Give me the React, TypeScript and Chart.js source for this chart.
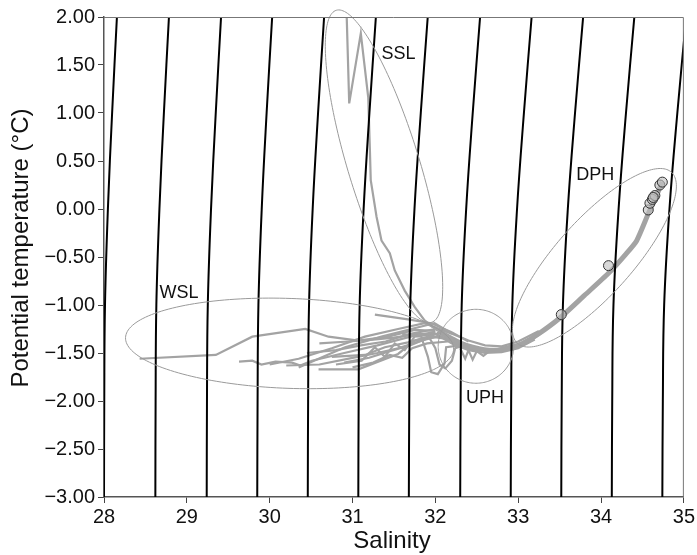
import React, { useEffect, useRef } from "react";
import { Chart, registerables } from "chart.js";
Chart.register(...registerables);

// Isopycnal lines: salinity at each temperature level
const ISO_T = [-3, -2, -1, 0, 1, 2];
const ISO_1 = [28.0, 28.003, 28.012, 28.047, 28.098, 28.156];
const ISO_2 = [28.62, 28.623, 28.632, 28.669, 28.723, 28.784];
const ISO_3 = [29.24, 29.243, 29.253, 29.292, 29.349, 29.413];
const ISO_4 = [29.85, 29.854, 29.864, 29.904, 29.963, 30.03];
const ISO_5 = [30.46, 30.464, 30.475, 30.519, 30.584, 30.657];
const ISO_6 = [31.07, 31.074, 31.086, 31.134, 31.204, 31.282];
const ISO_7 = [31.68, 31.685, 31.697, 31.748, 31.824, 31.908];
const ISO_8 = [32.3, 32.305, 32.318, 32.372, 32.451, 32.54];
const ISO_9 = [32.91, 32.915, 32.929, 32.986, 33.069, 33.162];
const ISO_10 = [33.52, 33.525, 33.54, 33.599, 33.686, 33.784];
const ISO_11 = [34.13, 34.135, 34.15, 34.212, 34.301, 34.402];
const ISO_12 = [34.74, 34.746, 34.762, 34.826, 34.921, 35.028];
const ISOPYCNALS = [ISO_1, ISO_2, ISO_3, ISO_4, ISO_5, ISO_6, ISO_7, ISO_8, ISO_9, ISO_10, ISO_11, ISO_12];

// Profiles: [salinity, potential temperature]
const PROF_SSL: number[][] = [[30.93, 2.0], [30.96, 1.1], [31.1, 1.83], [31.19, 1.16], [31.21, 0.61], [31.22, 0.3], [31.29, -0.08], [31.35, -0.33], [31.45, -0.46], [31.51, -0.64], [31.63, -0.85], [31.75, -1.02], [31.87, -1.16], [32.03, -1.27]];
const PROF_W1: number[][] = [[28.43, -1.56], [29.35, -1.52], [29.79, -1.33], [30.43, -1.25], [30.71, -1.33], [31.07, -1.37], [31.43, -1.33], [31.75, -1.26], [32.0, -1.27]];
const PROF_W2: number[][] = [[29.63, -1.59], [29.79, -1.58], [29.9, -1.62], [30.07, -1.59], [30.27, -1.6], [30.37, -1.63], [30.51, -1.58], [30.9, -1.5], [31.3, -1.42], [31.7, -1.33], [32.0, -1.28]];
const PROF_A: number[][] = [[30.35, -1.65], [30.59, -1.56], [30.91, -1.44], [31.35, -1.33], [31.71, -1.25], [31.99, -1.19], [32.2, -1.3]];
const PROF_B: number[][] = [[30.59, -1.67], [31.07, -1.67], [31.31, -1.59], [31.55, -1.51], [31.75, -1.37], [32.03, -1.3]];
const PROF_C: number[][] = [[30.0, -1.62], [30.35, -1.56], [30.75, -1.45], [31.15, -1.33], [31.55, -1.25], [31.87, -1.19], [32.1, -1.27]];
const PROF_E: number[][] = [[31.27, -1.1], [31.67, -1.15], [31.95, -1.19], [32.19, -1.28], [32.4, -1.38]];
const PROF_F: number[][] = [[30.8, -1.62], [31.11, -1.58], [31.27, -1.44], [31.39, -1.54], [31.51, -1.4], [31.63, -1.47], [31.75, -1.33], [32.0, -1.3]];
const PROF_G: number[][] = [[30.75, -1.54], [31.15, -1.52], [31.39, -1.44], [31.67, -1.39], [31.95, -1.33], [32.2, -1.36]];
const PROF_H: number[][] = [[31.6, -1.3], [31.83, -1.33], [31.91, -1.54], [31.95, -1.7], [32.03, -1.72], [32.11, -1.61], [32.13, -1.44], [32.3, -1.42]];
const PROF_I: number[][] = [[31.9, -1.3], [32.0, -1.45], [32.05, -1.62], [32.12, -1.66], [32.2, -1.58], [32.24, -1.45], [32.35, -1.42]];
const PROF_J: number[][] = [[30.45, -1.5], [30.8, -1.47], [31.1, -1.42], [31.4, -1.38], [31.7, -1.3], [32.0, -1.25]];
const PROF_K: number[][] = [[30.9, -1.6], [31.2, -1.55], [31.45, -1.48], [31.7, -1.42], [31.9, -1.35], [32.1, -1.32]];
const PROF_L: number[][] = [[30.2, -1.63], [30.6, -1.62], [31.0, -1.55], [31.3, -1.5], [31.55, -1.45], [31.8, -1.38], [32.05, -1.32]];
const PROF_M: number[][] = [[30.6, -1.4], [30.95, -1.38], [31.25, -1.36], [31.5, -1.34], [31.8, -1.3], [32.05, -1.3]];
const PROF_N: number[][] = [[31.0, -1.65], [31.25, -1.6], [31.45, -1.52], [31.6, -1.55], [31.72, -1.45], [31.9, -1.4], [32.15, -1.38]];
const PROF_U2: number[][] = [[32.0, -1.3], [32.2, -1.4], [32.4, -1.47], [32.6, -1.5], [32.8, -1.49], [33.0, -1.45], [33.2, -1.36]];
const PROF_U3: number[][] = [[31.95, -1.22], [32.2, -1.3], [32.4, -1.37], [32.6, -1.42], [32.8, -1.43], [33.0, -1.38], [33.25, -1.27]];
const PROF_U4: number[][] = [[32.3, -1.45], [32.36, -1.56], [32.4, -1.47], [32.45, -1.57], [32.5, -1.48], [32.58, -1.53], [32.65, -1.48]];
const PROF_U5: number[][] = [[32.1, -1.33], [32.3, -1.43], [32.5, -1.48], [32.7, -1.46], [32.9, -1.46], [33.1, -1.4], [33.3, -1.28]];
const PROF_CORE: number[][] = [[32.03, -1.27], [32.2, -1.35], [32.31, -1.4], [32.45, -1.44], [32.59, -1.465], [32.75, -1.47], [32.91, -1.44], [33.05, -1.4], [33.23, -1.31], [33.51, -1.13], [33.8, -0.9], [34.09, -0.67], [34.3, -0.47], [34.43, -0.33], [34.57, -0.05], [34.67, 0.14], [34.74, 0.28]];

const THIN_PROFILES = [PROF_SSL, PROF_W1, PROF_W2, PROF_A, PROF_B, PROF_C, PROF_E, PROF_F, PROF_G, PROF_H, PROF_I, PROF_J, PROF_K, PROF_L, PROF_M, PROF_N, PROF_U2, PROF_U3, PROF_U4, PROF_U5];

// Circled samples
const CIRCLE_S = [33.52, 34.09, 34.57, 34.59, 34.62, 34.65, 34.63, 34.71, 34.74];
const CIRCLE_T = [-1.1, -0.59, -0.01, 0.06, 0.1, 0.14, 0.12, 0.25, 0.28];

// Water-mass ellipses (data units): centre and two semi-axis vectors
const ELL_NAMES = ["SSL", "WSL", "UPH", "DPH"];
const ELL_CENTER = [[31.38, 0.445], [30.24, -1.4], [32.49, -1.43], [33.92, -0.508]];
const ELL_AXIS_A = [[0.576, -1.625], [1.98, -0.06], [0.456, 0], [0.93, 0.891]];
const ELL_AXIS_B = [[0.413, 0.11], [-0.019, -0.468], [0, 0.385], [0.338, -0.266]];
const LABEL_POS = [[31.35, 1.61], [28.67, -0.88], [32.37, -1.97], [33.7, 0.35]];
const LABEL_TEXT = ["SSL", "WSL", "UPH", "DPH"];

const X_TICKS = [28, 29, 30, 31, 32, 33, 34, 35];
const FONT = "'Liberation Sans', Arial, Helvetica, sans-serif";

export default function App() {
  const ref = useRef<HTMLCanvasElement>(null);
  useEffect(() => {
    document.body.style.margin = "0";
    const canvas = ref.current!;
    const pts = (arr: number[][]) => arr.map(([s, t]) => ({ x: s, y: t }));
    const datasets: any[] = [];
    datasets.push({
      data: CIRCLE_S.map((s, i) => ({ x: s, y: CIRCLE_T[i] })),
      showLine: false,
      pointRadius: 5,
      pointBackgroundColor: "rgba(190,190,190,0.6)",
      pointBorderColor: "#333",
      pointBorderWidth: 1,
    });
    ISOPYCNALS.forEach((arr) =>
      datasets.push({
        data: arr.map((s, i) => ({ x: s, y: ISO_T[i] })),
        showLine: true,
        borderColor: "#000",
        borderWidth: 2,
        pointRadius: 0,
        tension: 0.4,
      })
    );
    datasets.push({
      data: pts(PROF_CORE),
      showLine: true,
      borderColor: "#a3a3a3",
      borderWidth: 5,
      pointRadius: 0,
      tension: 0.2,
    });
    THIN_PROFILES.forEach((p) =>
      datasets.push({
        data: pts(p),
        showLine: true,
        borderColor: "#a3a3a3",
        borderWidth: 2.2,
        pointRadius: 0,
        tension: 0,
      })
    );

    const overlay = {
      id: "overlay",
      afterDatasetsDraw(chart: any) {
        const { ctx, scales, chartArea } = chart;
        const xs = scales.x;
        const ys = scales.y;
        ctx.save();
        // ellipses
        ctx.strokeStyle = "#9a9a9a";
        ctx.lineWidth = 1;
        ELL_NAMES.forEach((_, k) => {
          const [cS, cT] = ELL_CENTER[k];
          const cx = xs.getPixelForValue(cS);
          const cy = ys.getPixelForValue(cT);
          const ux = xs.getPixelForValue(cS + ELL_AXIS_A[k][0]) - cx;
          const uy = ys.getPixelForValue(cT + ELL_AXIS_A[k][1]) - cy;
          const vx = xs.getPixelForValue(cS + ELL_AXIS_B[k][0]) - cx;
          const vy = ys.getPixelForValue(cT + ELL_AXIS_B[k][1]) - cy;
          ctx.beginPath();
          for (let i = 0; i <= 180; i++) {
            const th = (i / 180) * Math.PI * 2;
            const px = cx + ux * Math.cos(th) + vx * Math.sin(th);
            const py = cy + uy * Math.cos(th) + vy * Math.sin(th);
            if (i === 0) ctx.moveTo(px, py);
            else ctx.lineTo(px, py);
          }
          ctx.closePath();
          ctx.stroke();
        });
        // labels
        ctx.fillStyle = "#111";
        ctx.font = `18px ${FONT}`;
        ctx.textAlign = "left";
        ctx.textBaseline = "middle";
        LABEL_TEXT.forEach((t, k) => {
          ctx.fillText(t, xs.getPixelForValue(LABEL_POS[k][0]), ys.getPixelForValue(LABEL_POS[k][1]));
        });
        // top/right frame
        ctx.strokeStyle = "#777";
        ctx.lineWidth = 1;
        ctx.beginPath();
        ctx.moveTo(chartArea.left, chartArea.top + 0.5);
        ctx.lineTo(chartArea.right - 0.5, chartArea.top + 0.5);
        ctx.lineTo(chartArea.right - 0.5, chartArea.bottom);
        ctx.stroke();
        // axis titles
        ctx.fillStyle = "#111";
        ctx.font = `24px ${FONT}`;
        ctx.textAlign = "center";
        ctx.textBaseline = "middle";
        ctx.fillText("Salinity", 392, 541);
        ctx.translate(21, 248);
        ctx.rotate(-Math.PI / 2);
        ctx.fillText("Potential temperature (°C)", 0, 0);
        ctx.restore();
      },
    };

    const chart = new Chart(canvas, {
      type: "scatter",
      data: { datasets },
      options: {
        responsive: false,
        animation: false,
        events: [],
        layout: { padding: { top: 17, right: 10, left: 0, bottom: 0 } },
        plugins: { legend: { display: false }, tooltip: { enabled: false } },
        scales: {
          x: {
            type: "linear",
            min: 28,
            max: 35,
            afterFit: (s: any) => {
              s.height = 58;
            },
            afterBuildTicks: (s: any) => {
              s.ticks = X_TICKS.map((v) => ({ value: v }));
            },
            ticks: {
              color: "#111",
              font: { family: FONT, size: 20 },
              padding: 2,
              maxRotation: 0,
              callback: (v: any) => String(v),
            },
            grid: { drawOnChartArea: false, drawTicks: true, tickLength: 6, color: "#444" },
            border: { display: true, color: "#555", width: 1.5 },
          },
          y: {
            type: "linear",
            min: -3,
            max: 2,
            afterFit: (s: any) => {
              s.width = 104;
            },
            ticks: {
              stepSize: 0.5,
              color: "#111",
              font: { family: FONT, size: 20 },
              padding: 3,
              callback: (v: any) => Number(v).toFixed(2).replace("-", "\u2212"),
            },
            grid: { drawOnChartArea: false, drawTicks: true, tickLength: 6, color: "#444" },
            border: { display: true, color: "#555", width: 1.5 },
          },
        },
      },
      plugins: [overlay],
    });
    return () => chart.destroy();
  }, []);
  return <canvas ref={ref} width={697} height={555} style={{ display: "block" }} />;
}
